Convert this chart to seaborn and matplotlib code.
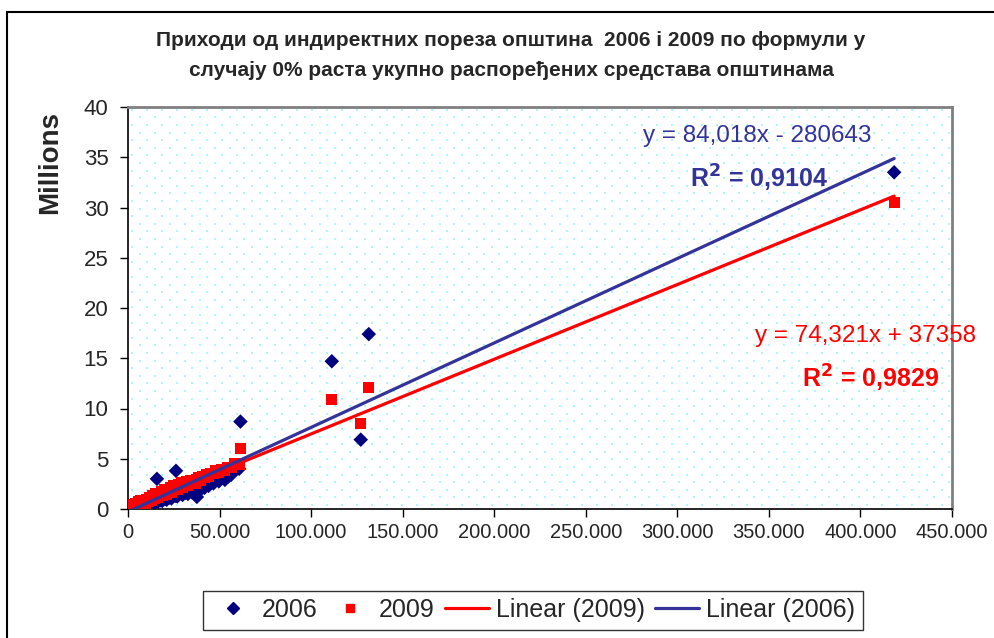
import numpy as np
import pandas as pd
import seaborn as sns
import matplotlib.pyplot as plt
from matplotlib.patches import Rectangle
from matplotlib.lines import Line2D
from matplotlib.ticker import FuncFormatter, MultipleLocator

# x: base per municipality (thousands), y: revenue in millions
x_k = [1.2, 1.9, 2.5, 3.0, 3.4, 4.1, 4.4, 5.2, 5.6, 6.1, 6.7, 7.0, 7.6, 8.3, 8.8, 9.5,
       9.9, 10.6, 11.0, 11.8, 12.3, 12.9, 13.4, 14.1, 14.6, 15.2, 15.8, 16.3, 16.9, 17.5,
       18.2, 18.7, 19.3, 20.0, 20.6, 21.1, 21.9, 22.4, 23.0, 23.7, 24.5, 25.1, 25.8, 26.2,
       26.9, 27.6, 28.3, 29.0, 29.8, 30.5, 31.2, 31.9, 32.7, 33.4, 34.3, 35.0, 35.9, 36.8,
       37.6, 38.5, 39.4, 40.6, 41.7, 42.8, 44.0, 45.3, 46.7, 48.0, 49.6, 51.2, 52.9, 54.5,
       56.3, 58.4, 60.7, 61.4, 111.3, 127.1, 131.5, 418.4]

y_2006 = [0.05, 0.12, 0.08, 0.25, 0.15, 0.18, 0.35, 0.22, 0.40, 0.28, 0.31, 0.62, 0.36, 0.55,
          0.42, 0.38, 0.75, 0.58, 0.45, 0.90, 0.66, 0.52, 1.05, 0.78, 0.60, 1.20, 3.00, 0.72,
          1.10, 0.85, 1.35, 0.80, 1.15, 1.55, 1.00, 0.92, 1.40, 1.12, 1.70, 1.05, 1.45, 1.95,
          1.30, 3.80, 1.25, 2.05, 1.55, 2.30, 1.40, 1.85, 1.60, 2.35, 1.50, 2.00, 2.50, 1.65,
          2.20, 1.45, 1.20, 2.60, 1.90, 2.45, 2.10, 2.85, 2.30, 2.95, 2.55, 3.20, 2.75, 3.35,
          2.90, 3.20, 3.40, 3.95, 4.00, 8.70, 14.70, 6.90, 17.40, 33.50]

y_2009 = [0.28, 0.23, 0.18, 0.46, 0.34, 0.27, 0.49, 0.46, 0.71, 0.39, 0.64, 0.86, 0.56, 0.81,
          0.74, 0.60, 0.98, 0.93, 0.76, 1.17, 1.00, 0.88, 1.34, 1.19, 1.08, 1.52, 1.36, 1.15,
          1.50, 1.39, 1.69, 1.35, 1.62, 1.93, 1.62, 1.46, 1.87, 1.80, 2.10, 1.70, 2.01, 2.31,
          2.01, 2.19, 1.92, 2.39, 2.24, 2.60, 2.15, 2.51, 2.41, 2.71, 2.32, 2.62, 2.84, 2.59,
          2.86, 2.57, 2.93, 3.10, 2.87, 3.21, 3.19, 3.42, 3.21, 3.56, 3.56, 3.81, 3.68, 3.94,
          3.87, 4.14, 4.12, 4.48, 4.45, 6.00, 10.90, 8.50, 12.10, 30.50]

# trend lines as printed on the chart
slope_2006, intercept_2006 = 84.018, -280643
slope_2009, intercept_2009 = 74.321, 37358

df = pd.DataFrame({"x": np.array(x_k) * 1000,
                   "y2006": np.array(y_2006) * 1e6,
                   "y2009": np.array(y_2009) * 1e6})

x_ends = np.array([df["x"].min(), df["x"].max()])
trend = pd.DataFrame({"x": x_ends,
                      "t2006": slope_2006 * x_ends + intercept_2006,
                      "t2009": slope_2009 * x_ends + intercept_2009})

sns.set_theme(style="white")
plt.rcParams["font.family"] = ["Liberation Sans", "DejaVu Sans"]

W, H = 995, 638
fig = plt.figure(figsize=(W / 100, H / 100), dpi=100)
ax = fig.add_axes([128 / W, 129 / H, 824 / W, 402 / H])

# dotted Excel-like plot area fill (staggered dot pattern)
pw, ph = 824, 402
dots = []
for i, yy in enumerate(np.arange(4, ph, 7.6)):
    off = 0 if i % 2 == 0 else 7.5
    for xx in np.arange(4 + off, pw, 15):
        dots.append((xx / pw, yy / ph))
dots = np.array(dots)
ax.scatter(dots[:, 0], dots[:, 1], transform=ax.transAxes, s=4, marker="s",
           color="#aef6f8", linewidths=0, zorder=0, clip_on=True)

navy = "#000080"
red = "#ff0000"
blue_line = "#333399"

sns.scatterplot(data=df, x="x", y="y2006", marker="D", s=55, color=navy,
                edgecolor="none", ax=ax, zorder=3)
sns.scatterplot(data=df, x="x", y="y2009", marker="s", s=65, color=red,
                edgecolor="none", ax=ax, zorder=4)
sns.lineplot(data=trend, x="x", y="t2009", color=red, lw=2.3, ax=ax, zorder=5)
sns.lineplot(data=trend, x="x", y="t2006", color=blue_line, lw=2.3, ax=ax, zorder=6)

ax.set_xlim(0, 450000)
ax.set_ylim(0, 40e6)
ax.xaxis.set_major_locator(MultipleLocator(50000))
ax.yaxis.set_major_locator(MultipleLocator(5e6))
ax.xaxis.set_major_formatter(FuncFormatter(lambda v, p: f"{int(v):,}".replace(",", ".")))
ax.yaxis.set_major_formatter(FuncFormatter(lambda v, p: f"{int(round(v / 1e6))}"))
ax.tick_params(axis="x", labelsize=14.5, direction="out", length=6, width=1,
               color="black", bottom=True, pad=4)
ax.tick_params(axis="y", labelsize=16, direction="out", length=6, width=1,
               color="black", left=True, pad=8)
ax.set_xlabel("")
ax.set_ylabel("Millions", fontsize=20, fontweight="bold")
ax.yaxis.set_label_coords((63 - 128) / pw, (509 - 162) / ph)

for side in ["left", "bottom"]:
    ax.spines[side].set_color("black")
    ax.spines[side].set_linewidth(1.2)
for side in ["top", "right"]:
    ax.spines[side].set_color("#808080")
    ax.spines[side].set_linewidth(2)

title_1 = "Приходи од индиректних пореза општина  2006 і 2009 по формули у"
title_2 = "случају 0% раста укупно распоређених средстава општинама"
fig.text(511 / W, 1 - 41 / H, title_1, ha="center", va="center", fontsize=15,
         fontweight="bold")
fig.text(511 / W, 1 - 71 / H, title_2, ha="center", va="center", fontsize=15,
         fontweight="bold")

fig.text(757 / W, 1 - 136 / H, "y = 84,018x - 280643",
         ha="center", va="center", fontsize=17.5, color=blue_line)
fig.text(759 / W, 1 - 178 / H, r"R$^\mathbf{2}$ = 0,9104",
         ha="center", va="center", fontsize=18, color=blue_line, fontweight="bold")
fig.text(866 / W, 1 - 336 / H, "y = 74,321x + 37358",
         ha="center", va="center", fontsize=17.5, color=red)
fig.text(871 / W, 1 - 378 / H, r"R$^\mathbf{2}$ = 0,9829",
         ha="center", va="center", fontsize=18, color=red, fontweight="bold")

# outer chart border
fig.patches.append(Rectangle((7 / W, -0.1), 1.2, 1.1 - 12 / H, transform=fig.transFigure,
                             fill=False, edgecolor="black", lw=1.5))

handles = [Line2D([], [], ls="none", marker="D", color=navy, markersize=6),
           Line2D([], [], ls="none", marker="s", color=red, markersize=6),
           Line2D([], [], color=red, lw=2.3),
           Line2D([], [], color=blue_line, lw=2.3)]
labels = ["2006", "2009", "Linear (2009)", "Linear (2006)"]
leg = fig.legend(handles, labels, loc="center", bbox_to_anchor=(533 / W, 28 / H),
                 ncol=4, fontsize=18, frameon=True, fancybox=False, edgecolor="black",
                 handlelength=1.75, columnspacing=0.4, handletextpad=0.3, borderpad=0.3)
leg.get_frame().set_linewidth(1)

fig.savefig("out.png", dpi=100)
